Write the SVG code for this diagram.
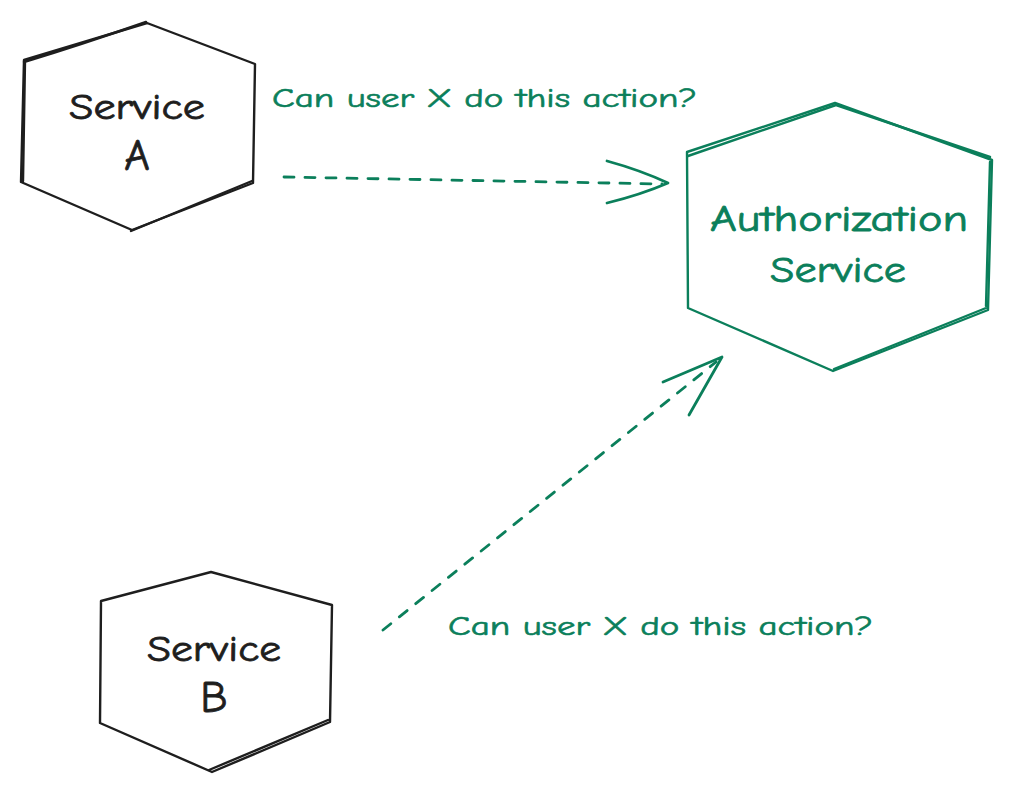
<svg xmlns="http://www.w3.org/2000/svg" width="1013" height="793" viewBox="0 0 1013 793">
  <defs>
    <style>
      .hex { fill: none; stroke-width: 2.4; stroke-linejoin: round; stroke-linecap: round; }
      .dark { stroke: #1e1e1e; }
      .green { stroke: #0b7f5b; }
      .node-text { font-family: "Comic Neue", "Liberation Sans", "DejaVu Sans", sans-serif; font-size: 36px; text-anchor: middle; stroke-width: 0.8; }
      .big { font-size: 44px; }
      .label { font-family: "Comic Neue", "Liberation Sans", "DejaVu Sans", sans-serif; font-size: 27px; fill: #0b7f5b; stroke: #0b7f5b; stroke-width: 0.6; }
      .conn { fill: none; stroke: #0b7f5b; stroke-width: 2.8; stroke-linecap: round; stroke-linejoin: round; }
      .dash { stroke-dasharray: 10 11; }
    </style>
  </defs>
  <rect width="1013" height="793" fill="#ffffff"/>

  <g id="service-a">
    <path class="hex dark" d="M147,23 L255,64 L253,183 L132,230 L21,182 L24,60 Z"/>
    <path class="hex dark" d="M24,62 Q80,45 146,22 M131,231 L252,181 M25,61 L23,181" stroke-width="1.2"/>
    <text class="node-text" x="137" y="119" fill="#1e1e1e" stroke="#1e1e1e" textLength="136" lengthAdjust="spacingAndGlyphs">Service</text>
    <text class="node-text big" x="137" y="170" fill="#1e1e1e" stroke="#1e1e1e">A</text>
  </g>

  <g id="authorization-service">
    <path class="hex green" d="M687,152 L835,103 L992,160 L988,310 L833,371 L688,308 Z"/>
    <path class="hex green" d="M688,156 L836,105 L990,157 M834,369 L986,308 M990,162 L986,306" stroke-width="1.2"/>
    <text class="node-text" x="839" y="231" fill="#0b7f5b" stroke="#0b7f5b" textLength="258" lengthAdjust="spacingAndGlyphs">Authorization</text>
    <text class="node-text" x="838" y="282" fill="#0b7f5b" stroke="#0b7f5b" textLength="136" lengthAdjust="spacingAndGlyphs">Service</text>
  </g>

  <g id="service-b">
    <path class="hex dark" d="M101,601 L211,572 L332,605 L330,722 L212,772 L100,723 Z"/>
    <path class="hex dark" d="M209,770 L328,720" stroke-width="1.2"/>
    <text class="node-text" x="214" y="661" fill="#1e1e1e" stroke="#1e1e1e" textLength="134" lengthAdjust="spacingAndGlyphs">Service</text>
    <text class="node-text big" x="214" y="712" fill="#1e1e1e" stroke="#1e1e1e">B</text>
  </g>

  <g id="connectors">
    <path class="conn dash" d="M284,177 L662,184"/>
    <path class="conn" d="M607,161 Q640,170 668,183 Q640,195 607,203"/>
    <path class="conn dash" d="M383,630 L716,362"/>
    <path class="conn" d="M663,382 L722,357 L689,415"/>
  </g>

  <g id="labels">
    <text class="label" x="272" y="107" textLength="425" lengthAdjust="spacingAndGlyphs">Can user X do this action?</text>
    <text class="label" x="448" y="635" textLength="425" lengthAdjust="spacingAndGlyphs">Can user X do this action?</text>
  </g>
</svg>
